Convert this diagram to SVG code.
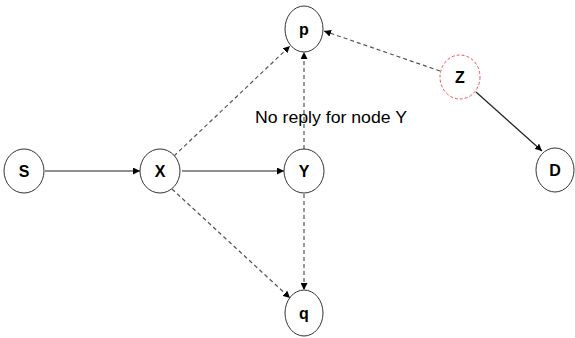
<svg xmlns="http://www.w3.org/2000/svg" width="575" height="338" viewBox="0 0 575 338">
<style>
.n ellipse{fill:#fff;stroke:#333;stroke-width:1}
.n text{font-family:"Liberation Sans",Arial,sans-serif;font-weight:bold;font-size:16px;fill:#000;text-anchor:middle}
.c line{stroke:#222;stroke-width:1.2;fill:none}
.c .d{stroke:#555;stroke-dasharray:4,3}
.lbl{font-family:"Liberation Sans",Arial,sans-serif;font-size:16px;fill:#000}
</style>
<defs>
<marker id="ah" viewBox="0 0 10 10" refX="10" refY="5" markerWidth="7" markerHeight="7" orient="auto" markerUnits="userSpaceOnUse">
<path d="M0,0 L10,5 L0,10 z" fill="#000"/>
</marker>
</defs>
<g class="c" id="connectors">
<line x1="45" y1="171" x2="140" y2="171" marker-end="url(#ah)"/>
<line x1="182" y1="171" x2="284" y2="171" marker-end="url(#ah)"/>
<line class="d" x1="174" y1="156" x2="290" y2="46" marker-end="url(#ah)"/>
<line class="d" x1="172" y1="189" x2="290" y2="298" marker-end="url(#ah)"/>
<line class="d" x1="304" y1="149" x2="304" y2="52" marker-end="url(#ah)"/>
<line class="d" x1="304" y1="194" x2="304" y2="290" marker-end="url(#ah)"/>
<line class="d" x1="440" y1="71" x2="324" y2="31" marker-end="url(#ah)"/>
<line x1="476" y1="92" x2="542" y2="151" marker-end="url(#ah)"/>
</g>
<g class="n" id="S"><ellipse cx="24" cy="171" rx="20" ry="22"/><text x="24" y="177">S</text></g>
<g class="n" id="X"><ellipse cx="160" cy="171" rx="20" ry="22"/><text x="160" y="177">X</text></g>
<g class="n" id="Y"><ellipse cx="304" cy="171" rx="20" ry="22"/><text x="304" y="177">Y</text></g>
<g class="n" id="p"><ellipse cx="304" cy="29" rx="19" ry="23"/><text x="304" y="35">p</text></g>
<g class="n" id="q"><ellipse cx="304" cy="313" rx="19" ry="23"/><text x="304" y="319">q</text></g>
<g class="n" id="Z"><ellipse cx="460" cy="77" rx="20" ry="22" style="stroke:#f05050;stroke-dasharray:3,2"/><text x="460" y="83">Z</text></g>
<g class="n" id="D"><ellipse cx="555" cy="170" rx="19" ry="22"/><text x="555" y="176">D</text></g>
<text class="lbl" x="255" y="123" textLength="152" lengthAdjust="spacingAndGlyphs">No reply for node Y</text>
</svg>
